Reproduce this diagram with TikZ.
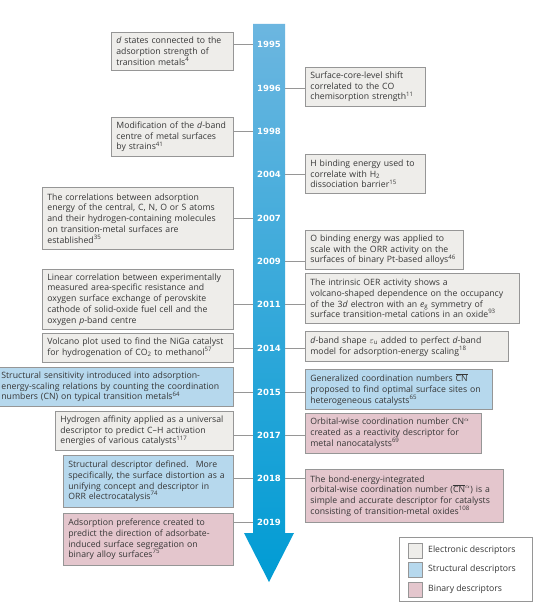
\documentclass[tikz,border=0pt]{standalone}
\usepackage{fontspec}
\setmainfont{Open Sans}
\newfontfamily\yearfont{DejaVu Sans}
\definecolor{txt}{RGB}{55,55,55}
\definecolor{gfill}{RGB}{238,237,234}
\definecolor{bfill}{RGB}{182,216,237}
\definecolor{pfill}{RGB}{228,198,205}
\definecolor{edge}{RGB}{150,150,150}
\definecolor{arrtop}{RGB}{108,182,224}
\definecolor{arrbot}{RGB}{0,156,212}
\begin{document}
\begin{tikzpicture}[x=1pt,y=-1pt,
  desc/.style={draw=edge, line width=0.8pt, anchor=north west, inner xsep=5pt, inner ysep=0pt,
    align=left, font=\fontsize{8.7}{10.7}\selectfont, text=txt},
  gdesc/.style={desc, fill=gfill},
  bdesc/.style={desc, fill=bfill},
  pdesc/.style={desc, fill=pfill},
  yr/.style={font=\yearfont\bfseries\fontsize{8.5}{10}\selectfont, text=white, inner sep=1pt},
  conn/.style={draw=edge, line width=0.7pt},
  swatch/.style={draw=edge, line width=0.6pt, minimum width=14pt, minimum height=15pt, inner sep=0pt},
  legtext/.style={anchor=west, font=\fontsize{8.7}{10}\selectfont, text=txt, inner sep=0pt}]
\clip (0,0) rectangle (551,612);
\fill[white] (0,0) rectangle (551,612);
% arrow
\shade[top color=arrtop, bottom color=arrbot]
  (253,24) -- (285,24) -- (285,533) -- (294,533) -- (269,582) -- (244,533) -- (253,533) -- cycle;
\coordinate (sl) at (253,0);
\coordinate (sr) at (285,0);
% years
\foreach \yy/\pos in {1995/44, 1996/88, 1998/131, 2004/174, 2007/218, 2009/261, 2011/304, 2014/348, 2015/392, 2017/435, 2018/478, 2019/522}
  \node[yr] (y\yy) at (269,\pos) {\yy};
% boxes
\node[gdesc, minimum width=122pt, minimum height=38pt, text width=112pt] (L1995) at (111,32)
 {\textit{d} states connected to the\\adsorption strength of\\transition metals\textsuperscript{4}};
\node[gdesc, minimum width=120pt, minimum height=39pt, text width=110pt] (R1996) at (305,67)
 {Surface-core-level shift\\correlated to the CO\\chemisorption strength\textsuperscript{11}};
\node[gdesc, minimum width=122pt, minimum height=39pt, text width=112pt] (L1998) at (111,117)
 {Modification of the \textit{d}-band\\centre of metal surfaces\\by strains\textsuperscript{41}};
\node[gdesc, minimum width=120pt, minimum height=39pt, text width=110pt] (R2004) at (305,154)
 {H binding energy used to\\correlate with H\textsubscript{2}\\dissociation barrier\textsuperscript{15}};
\node[gdesc, minimum width=191pt, minimum height=62pt, text width=181pt] (L2007) at (42,187)
 {The correlations between adsorption\\energy of the central, C, N, O or S atoms\\and their hydrogen-containing molecules\\on transition-metal surfaces are\\established\textsuperscript{35}};
\node[gdesc, minimum width=158pt, minimum height=39pt, text width=148pt] (R2009) at (305,230)
 {O binding energy was applied to\\scale with the ORR activity on the\\surfaces of binary Pt-based alloys\textsuperscript{46}};
\node[gdesc, minimum width=191pt, minimum height=60pt, text width=181pt] (L2011) at (42,269)
 {Linear correlation between experimentally\\measured area-specific resistance and\\oxygen surface exchange of perovskite\\cathode of solid-oxide fuel cell and the\\oxygen \textit{p}-band centre};
\node[gdesc, minimum width=214pt, minimum height=50pt, text width=204pt] (R2011) at (305,273)
 {The intrinsic OER activity shows a\\volcano-shaped dependence on the occupancy\\of the 3\textit{d} electron with an \textit{e}\textsubscript{g} symmetry of\\surface transition-metal cations in an oxide\textsuperscript{93}};
\node[gdesc, minimum width=191pt, minimum height=29pt, text width=181pt] (L2014) at (42,333)
 {Volcano plot used to find the NiGa catalyst\\for hydrogenation of CO\textsubscript{2} to methanol\textsuperscript{57}};
\node[gdesc, minimum width=203pt, minimum height=30pt, text width=193pt] (R2014) at (305,331)
 {\textit{d}-band shape $\varepsilon_{\mathrm{u}}$ added to perfect \textit{d}-band\\model for adsorption-energy scaling\textsuperscript{18}};
\node[bdesc, minimum width=237pt, minimum height=39pt, text width=227pt] (L2015) at (-4,367)
 {Structural sensitivity introduced into adsorption-\\energy-scaling relations by counting the coordination\\numbers (CN) on typical transition metals\textsuperscript{64}};
\node[bdesc, minimum width=187pt, minimum height=40pt, text width=177pt] (R2015) at (305,369)
 {Generalized coordination numbers $\overline{\hbox{CN}}$\\proposed to find optimal surface sites on\\heterogeneous catalysts\textsuperscript{65}};
\node[gdesc, minimum width=178pt, minimum height=39pt, text width=168pt] (L2017) at (55,411)
 {Hydrogen affinity applied as a universal\\descriptor to predict C--H activation\\energies of various catalysts\textsuperscript{117}};
\node[pdesc, minimum width=176pt, minimum height=40pt, text width=166pt] (R2017) at (305,413)
 {Orbital-wise coordination number CN\textsuperscript{$\alpha$}\\created as a reactivity descriptor for\\metal nanocatalysts\textsuperscript{69}};
\node[bdesc, minimum width=170pt, minimum height=52pt, text width=160pt] (L2018) at (63,455)
 {Structural descriptor defined.~ More\\specifically, the surface distortion as a\\unifying concept and descriptor in\\ORR electrocatalysis\textsuperscript{74}};
\node[pdesc, minimum width=198pt, minimum height=53pt, text width=188pt] (R2018) at (305,469)
 {The bond-energy-integrated\\orbital-wise coordination number ($\overline{\hbox{CN}}$\textsuperscript{$\alpha$}) is a\\simple and accurate descriptor for catalysts\\consisting of transition-metal oxides\textsuperscript{108}};
\node[pdesc, minimum width=170pt, minimum height=52pt, text width=160pt] (L2019) at (63,513)
 {Adsorption preference created to\\predict the direction of adsorbate-\\induced surface segregation on\\binary alloy surfaces\textsuperscript{75}};
% connectors
\foreach \b/\yy in {L1995/1995, L1998/1998, L2007/2007, L2011/2011, L2014/2014, L2015/2015, L2017/2017, L2018/2018, L2019/2019}
  \draw[conn] (\b.east |- y\yy) -- (sl |- y\yy);
\foreach \b/\yy in {R1996/1996, R2004/2004, R2009/2009, R2011/2011, R2014/2014, R2015/2015, R2017/2017, R2018/2018}
  \draw[conn] (sr |- y\yy) -- (\b.west |- y\yy);
% legend
\node[draw=edge, line width=0.6pt, fill=white, anchor=north west, minimum width=133pt, minimum height=64pt, inner sep=0pt] (legend) at (399,537) {};
\node[swatch, fill=gfill] (s1) at (415,550.5) {};
\node[swatch, fill=bfill] (s2) at (415,569.5) {};
\node[swatch, fill=pfill] (s3) at (415,589.5) {};
\node[legtext] (t1) at (428,550.5) {Electronic descriptors};
\node[legtext] (t2) at (428,569.5) {Structural descriptors};
\node[legtext] (t3) at (428,589.5) {Binary descriptors};
\end{tikzpicture}
\end{document}
